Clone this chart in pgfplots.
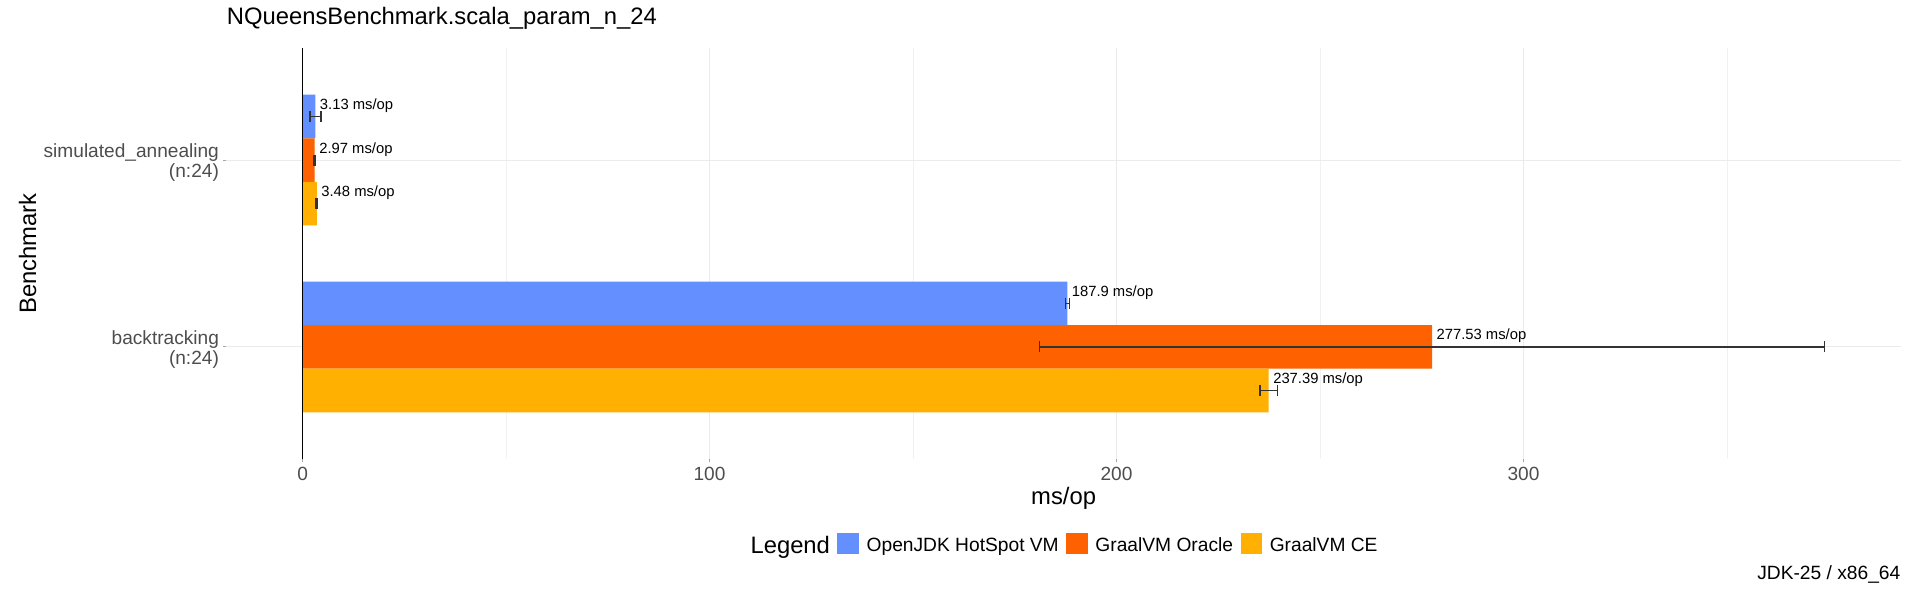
\documentclass[border=0pt]{standalone}
\usepackage{fontspec}
\setmainfont{Liberation Sans}
\usepackage{pgfplots}
\pgfplotsset{compat=1.18}
\pgfkeys{/pgf/number format/assume math mode=true}
\definecolor{cblue}{HTML}{648FFF}
\definecolor{corange}{HTML}{FE6100}
\definecolor{cyellow}{HTML}{FFB000}
\definecolor{tickgrey}{HTML}{4D4D4D}
\definecolor{errgrey}{HTML}{333333}
\definecolor{gridgrey}{HTML}{EBEBEB}
\pgfplotsset{
  mybar/.style={xbar, bar width=0.2333, bar shift=0pt, fill=#1, draw=none,
    point meta=x,
    nodes near coords={\pgfmathprintnumber{\pgfplotspointmeta}~ms/op},
    nodes near coords style={anchor=base west, inner sep=0pt, xshift=2.1bp, yshift=3.5bp,
      font=\fontsize{7.4bp}{9bp}\selectfont, text=black},
    error bars/.cd, x dir=both, x explicit,
    error bar style={draw=errgrey, line width=0.7bp},
    error mark options={draw=errgrey, line width=0.7bp, mark size=2.75bp, rotate=90}},
}
\begin{document}
\begin{tikzpicture}
\begin{axis}[
  scale only axis, width=837.1bp, height=205.5bp,
  xmin=-18.7, xmax=392.7, ymin=0.4, ymax=2.6,
  axis line style={draw=none},
  clip=false,
  xtick pos=bottom, ytick pos=left,
  xtick={0,100,200,300}, minor xtick={50,150,250,350},
  ytick={1,2},
  yticklabels={{backtracking\\(n:24)},{simulated\_annealing\\(n:24)}},
  xmajorgrids, xminorgrids, ymajorgrids,
  major grid style={draw=gridgrey, line width=0.55bp},
  minor grid style={draw=gridgrey!70, line width=0.35bp},
  tick align=outside, major tick length=1.7bp, minor tick length=0pt,
  major tick style={draw=tickgrey!50, line width=0.5bp},
  minor tick style={draw=none},
  xticklabel style={font=\fontsize{9.55bp}{11bp}\selectfont, text=tickgrey, anchor=base, inner sep=0pt, yshift=-8.8bp},
  yticklabel style={font=\fontsize{9.55bp}{10bp}\selectfont, text=tickgrey, align=right, anchor=east, inner sep=0pt, xshift=-1.9bp, yshift=-1.1bp},
  /pgf/number format/assume math mode=true,
  title={NQueensBenchmark.scala\_param\_n\_24},
  title style={at={(rel axis cs:0,1)}, anchor=base west, inner sep=0pt, yshift=6bp, font=\fontsize{11.9bp}{14bp}\selectfont},
  xlabel={ms/op},
  xlabel style={at={(rel axis cs:0.5,0)}, anchor=base, inner sep=0pt, yshift=-22.7bp, font=\fontsize{11.9bp}{14bp}\selectfont},
  ylabel={Benchmark},
  ylabel style={at={([xshift=-99.5bp]rel axis cs:0,0.5)}, anchor=center, inner sep=0pt, font=\fontsize{11.9bp}{14bp}\selectfont},
  legend columns=-1,
  legend cell align=left,
  legend style={draw=none, fill=none, inner sep=0pt, outer sep=0pt,
    at={([xshift=-1.65bp, yshift=-42.9bp]rel axis cs:0.5,0)}, anchor=center,
    /tikz/column sep=3.75bp, font=\fontsize{9.6bp}{11bp}\selectfont,
    nodes={inner sep=0pt}},
  legend image code/.code={\fill[#1] (0bp,-3.82bp) rectangle (10.85bp,6.32bp);},
]
\addlegendimage{empty legend}
\addlegendentry{\fontsize{11.9bp}{14bp}\selectfont Legend\hspace{1.1bp}}

\addplot[mybar=cblue] table[x=v, y=y, x error=e] {
v y e
3.13 2.2333 1.35
187.9 1.2333 0.5
};
\addlegendentry{OpenJDK HotSpot VM}

\addplot[mybar=corange] table[x=v, y=y, x error=e] {
v y e
2.97 2 0.15
277.53 1 96.47
};
\addlegendentry{GraalVM Oracle}

\addplot[mybar=cyellow] table[x=v, y=y, x error=e] {
v y e
3.48 1.7667 0.15
237.39 0.7667 2.1
};
\addlegendentry{GraalVM CE}

\draw[black, line width=0.75bp] (axis cs:0,0.4) -- (axis cs:0,2.6);
\node[anchor=base east, inner sep=0pt, font=\fontsize{9.6bp}{11bp}\selectfont] at ([yshift=-60bp]rel axis cs:1,0) {JDK-25 / x86\_64};
\end{axis}
\pgfresetboundingbox
\useasboundingbox (-113.25bp,-73bp) rectangle (846.75bp,229.5bp);
\end{tikzpicture}
\end{document}
